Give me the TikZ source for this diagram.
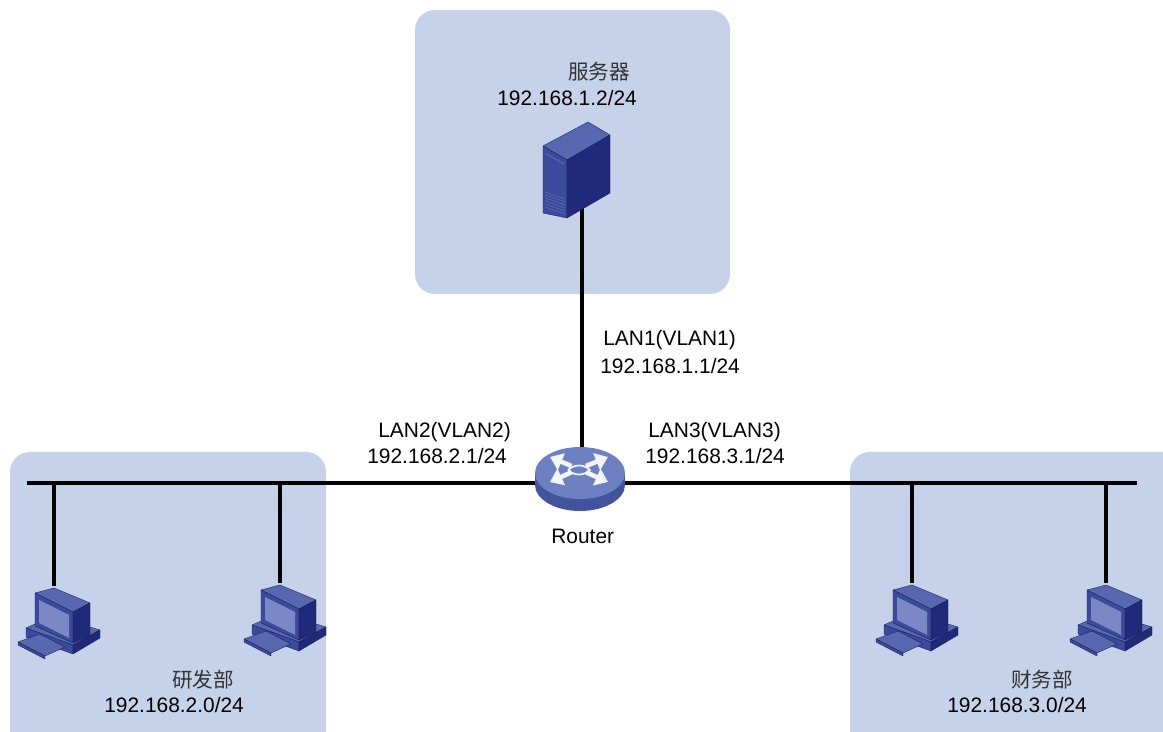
\documentclass[tikz,border=0pt]{standalone}
\usepackage{fontspec}
\setmainfont{Liberation Sans}
\newfontfamily\cjk{Noto Sans CJK SC}
\usetikzlibrary{arrows.meta}
\definecolor{zone}{RGB}{197,210,234}
\definecolor{devtop}{RGB}{88,104,176}
\definecolor{devfront}{RGB}{58,74,156}
\definecolor{devside}{RGB}{32,42,122}
\definecolor{devscreen}{RGB}{122,137,198}
\definecolor{rtop}{RGB}{108,128,194}
\definecolor{rside}{RGB}{66,84,158}

\begin{document}
\begin{tikzpicture}[x=0.02cm, y=-0.02cm, font=\fontsize{11.9}{14}\selectfont, >=Latex,
  zonebox/.style={fill=zone, rounded corners=0.4cm},
  link/.style={line width=2.2pt, black},
  lbl/.style={anchor=west, inner sep=0pt},
  cn/.style={anchor=west, inner sep=0pt, font=\fontsize{11.7}{14}\selectfont\cjk, black!80},
  hold/.style={inner sep=0pt, minimum size=2pt},
  face/.style={draw=devside!70!black, line width=0.2pt, line join=round},
  pc/.pic={
    % desktop case
    \filldraw[face, fill=devtop] (-28,40) -- (-1,28) -- (46,42) -- (19,57) -- cycle;
    \filldraw[face, fill=devfront] (-28,40) -- (19,57) -- (19,66) -- (-28,49) -- cycle;
    \filldraw[face, fill=devside] (19,57) -- (46,42) -- (46,50) -- (19,66) -- cycle;
    % keyboard
    \filldraw[face, fill=devtop] (-36,54) -- (-14,46) -- (11,59) -- (-9,68) -- cycle;
    \filldraw[face, fill=devfront] (-36,54) -- (-9,68) -- (-9,71) -- (-36,57) -- cycle;
    % monitor
    \filldraw[face, fill=devtop] (-19,5) -- (0,0) -- (36,15) -- (19,24) -- cycle;
    \filldraw[face, fill=devfront] (-19,5) -- (19,24) -- (19,55) -- (-19,38) -- cycle;
    \filldraw[face, fill=devside] (19,24) -- (36,15) -- (36,47) -- (19,55) -- cycle;
    \fill[devscreen] (-15,12) -- (15,27) -- (15,50) -- (-15,35) -- cycle;
  },
  server/.pic={
    \filldraw[face, fill=devtop] (-39,-24) -- (6,-48) -- (28,-35) -- (-15,-10) -- cycle;
    \filldraw[face, fill=devfront] (-39,-24) -- (-15,-10) -- (-15,48) -- (-39,43) -- cycle;
    \filldraw[face, fill=devside] (-15,-10) -- (28,-35) -- (28,23) -- (-15,48) -- cycle;
    % drive slot and vents
    \draw[devtop, line width=0.6pt] (-37,-17) -- (-18,-6);
    \foreach \v in {28,31,...,43} \draw[devtop, line width=0.4pt] (-37,\v-6) -- (-17,\v+1);
  },
  router/.pic={
    \fill[rside] (0,12) ellipse[x radius=45, y radius=26];
    \fill[rside] (-45,0) rectangle (45,12);
    \fill[rtop] (0,0) ellipse[x radius=45, y radius=26];
    % arrows on the top face
    \foreach \a/\b in {-30/-16, 28/-16, -30/9, 28/9}
      \draw[white!92!rtop, line width=2.6pt, -{Triangle[length=7pt, width=10pt]}] (\a*0.25-1, \b*0.25-3) -- (\a, \b);
    \fill[rtop] (-1,-3) ellipse[x radius=6, y radius=3];
    \draw[white!92!rtop, line width=1pt] (-12,-3) .. controls (-6,-9) and (4,-9) .. (10,-3)
                                         .. controls (4,3) and (-6,3) .. (-12,-3);
  }
]
  \clip (0,0) rectangle (1163,732);

  % zones
  \fill[zonebox] (415,10) rectangle (730,294);
  \fill[zonebox] (10,452) rectangle (326,760);
  \fill[zonebox] (850,452) rectangle (1190,760);

  % device anchors
  \node[hold] (srv) at (582,170) {};
  \node[hold] (rt) at (582,483) {};
  \coordinate (busL) at (27,483);
  \coordinate (busR) at (1137,483);
  \foreach \i/\x/\y in {1/54/588, 2/280/585, 3/912/585, 4/1106/585} {
    \coordinate (tap\i) at (\x,483);
    \node[hold] (pc\i) at (\x,\y) {};
  }

  % links
  \draw[link] (srv) -- (rt);
  \draw[link] (busL) -- (rt) -- (busR);
  \foreach \i in {1,...,4}
    \draw[link] (tap\i) -- (pc\i);

  % devices
  \pic at (srv) {server};
  \pic at (580,473) {router};
  \foreach \i in {1,...,4}
    \pic at (pc\i) {pc};

  % labels
  \node[cn] (srvname) at (568,72) {服务器};
  \node[lbl] (srvip) at (497,98) {192.168.1.2/24};
  \node[lbl] (lan1) at (603,340) {LAN1(VLAN1)};
  \node[lbl] (lan1ip) at (600,366) {192.168.1.1/24};
  \node[lbl] (lan2) at (378,432) {LAN2(VLAN2)};
  \node[lbl] (lan2ip) at (367,456) {192.168.2.1/24};
  \node[lbl] (lan3) at (648,432) {LAN3(VLAN3)};
  \node[lbl] (lan3ip) at (645,456) {192.168.3.1/24};
  \node[lbl] (rtname) at (551,536) {Router};
  \node[cn] (rdname) at (172,680) {研发部};
  \node[lbl] (rdnet) at (104,705) {192.168.2.0/24};
  \node[cn] (finname) at (1011,680) {财务部};
  \node[lbl] (finnet) at (947,705) {192.168.3.0/24};
\end{tikzpicture}
\end{document}
